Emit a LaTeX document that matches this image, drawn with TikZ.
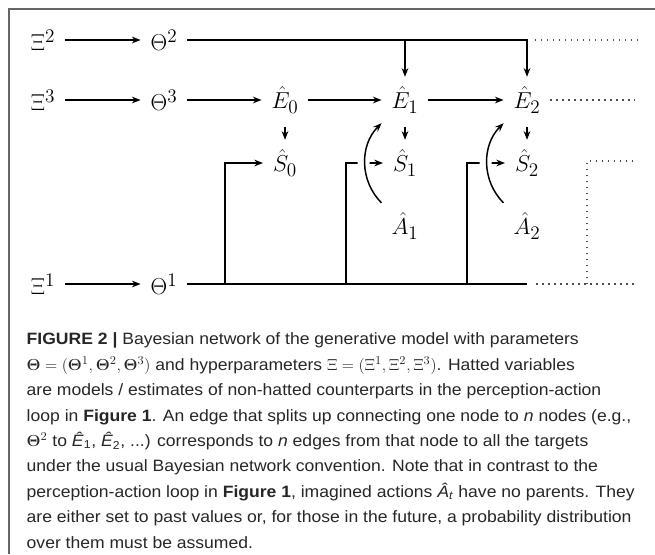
\documentclass[tikz,border=0pt]{standalone}
\usepackage{amsmath}
\usepackage{bm}
\usepackage[no-math]{fontspec}
\setmainfont[FakeStretch=1.07]{Liberation Sans}
\usetikzlibrary{arrows.meta}

\begin{document}
\begin{tikzpicture}[x=0.75pt,y=-0.75pt,line width=1.1pt,
    >={Stealth[length=6.5pt,width=5pt]},
    var/.style={inner sep=7pt,font=\fontsize{19}{23}\selectfont},
    dots/.style={line width=1pt,dash pattern=on 0.9pt off 3.6pt,black!70},
    cut/.style={preaction={draw=white,line width=9pt,-,shorten <=6pt,shorten >=6pt}}]
    \useasboundingbox (0,0) rectangle (655,554);
    \draw[line width=1.2pt,black!60] (9,554) -- (9,9) -- (655,9);

    \node[var] (X2) at (43,40) {$\Xi^2$};
    \node[var] (T2) at (164,40) {$\Theta^2$};
    \node[var] (X3) at (43,100) {$\Xi^3$};
    \node[var] (T3) at (164,100) {$\Theta^3$};
    \node[var] (E0) at (285,100) {$\hat{E}_0$};
    \node[var] (E1) at (405,100) {$\hat{E}_1$};
    \node[var] (E2) at (527,100) {$\hat{E}_2$};
    \node[var] (S0) at (285,163) {$\hat{S}_0$};
    \node[var] (S1) at (405,163) {$\hat{S}_1$};
    \node[var] (S2) at (527,163) {$\hat{S}_2$};
    \node[var] (A1) at (405,226) {$\hat{A}_1$};
    \node[var] (A2) at (527,226) {$\hat{A}_2$};
    \node[var] (X1) at (43,284) {$\Xi^1$};
    \node[var] (T1) at (164,284) {$\Theta^1$};

    \coordinate (r2) at (638,40);
    \coordinate (r3) at (635,100);
    \coordinate (r1) at (638,284);
    \coordinate (f1) at (587,161);
    \coordinate (f2) at (637,161);
    \coordinate (b0) at (225,284);
    \coordinate (b1) at (346,284);
    \coordinate (b2) at (467,284);

    \path[->] (X2) edge (T2);
    \path[->] (X3) edge (T3);
    \path[->] (X1) edge (T1);
    \path[->] (T3) edge (E0);
    \path[->] (E0) edge (E1);
    \path[->] (E1) edge (E2);
    \path[->] (E0) edge[shorten <=3pt] (S0);
    \path[->] (E1) edge[shorten <=3pt] (S1);
    \path[->] (E2) edge[shorten <=3pt] (S2);

    \draw[->] (T2) -| (E2);
    \draw[->] (E1 |- T2) -- (E1);
    \draw (T1) -- (E2 |- T1);
    \draw[->] (b0) |- (S0);
    \draw[->] (b1) |- (S1);
    \draw[->] (b2) |- (S2);
    \draw[->,cut] (A1.north west) to[bend left=45] (E1.south west);
    \draw[->,cut] (A2.north west) to[bend left=45] (E2.south west);

    \draw[dots] ([xshift=6pt]E2 |- T2) -- (r2);
    \draw[dots] (E2) -- (r3);
    \draw[dots] ([xshift=7pt]E2 |- T1) -- (r1);
    \draw[dots] (f1 |- T1) -- (f1) -- (f2);

    \node[anchor=north west,inner sep=0pt,align=left,black!85,
        font=\fontsize{12.3}{19.1}\selectfont] (cap) at (26,332) {%
        \textbf{FIGURE 2 |} Bayesian network of the generative model with parameters\\
        $\bm{\Theta}=(\bm{\Theta}^1,\bm{\Theta}^2,\bm{\Theta}^3)$ and hyperparameters $\Xi=(\Xi^1,\Xi^2,\Xi^3)$. Hatted variables\\
        are models / estimates of non-hatted counterparts in the perception-action\\
        loop in \textbf{Figure 1}. An edge that splits up connecting one node to \textit{n} nodes (e.g.,\\
        $\bm{\Theta}^2$ to \textit{Ê}\textsubscript{1}, \textit{Ê}\textsubscript{2}, ...) corresponds to \textit{n} edges from that node to all the targets\\
        under the usual Bayesian network convention. Note that in contrast to the\\
        perception-action loop in \textbf{Figure 1}, imagined actions \textit{Â}\textsubscript{\textit{t}} have no parents. They\\
        are either set to past values or, for those in the future, a probability distribution\\
        over them must be assumed.};
\end{tikzpicture}
\end{document}
